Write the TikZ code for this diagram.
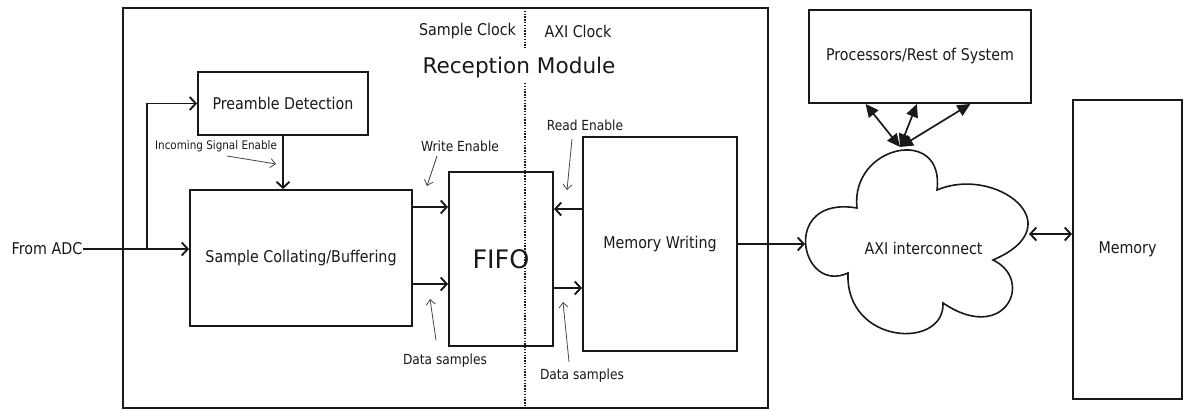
\documentclass[tikz,border=0pt]{standalone}
\usepackage{fontspec}
\setmainfont{DejaVu Sans}
\newfontfamily\narrowfont[FakeStretch=0.88]{DejaVu Sans}
\usetikzlibrary{arrows.meta,calc}
\definecolor{ink}{RGB}{25,25,25}
\definecolor{notegray}{RGB}{70,70,70}
\begin{document}
\begin{tikzpicture}[x=1pt,y=-1pt,
  every node/.style={text=ink},
  box/.style={draw=ink,line width=1.9pt,inner sep=0pt,
    font=\narrowfont\fontsize{16.2}{19}\selectfont},
  lbl/.style={inner sep=1pt,font=\narrowfont\fontsize{16.2}{19}\selectfont},
  notelbl/.style={inner sep=1pt,font=\narrowfont\fontsize{13.9}{16}\selectfont},
  arr/.style={draw=ink,line width=1.9pt,-{Straight Barb[length=6pt,width=13pt,line width=1.9pt]}},
  darr/.style={draw=ink,line width=1.9pt,{Straight Barb[length=6pt,width=13pt,line width=1.9pt]}-{Straight Barb[length=6pt,width=13pt,line width=1.9pt]}},
  tarr/.style={draw=ink,line width=1.7pt,{Triangle[length=13pt,width=12pt]}-{Triangle[length=13pt,width=12pt]}},
  note/.style={draw=notegray,line width=0.8pt,-{Straight Barb[length=5pt,width=9pt,line width=0.8pt]}},
  divider/.style={draw=ink,line width=1.5pt,dash pattern=on 1.4pt off 1.4pt}]
\useasboundingbox (0,0) rectangle (1184,411);

% reception module frame and its blocks
\node[box,minimum width=645pt,minimum height=400pt] (outer) at (445.5,208) {};
\node[inner sep=0pt,font=\fontsize{21.6}{25}\selectfont] (title) at (519,68) {Reception Module};
\node[lbl] (sclk) at (467.5,31) {Sample Clock};
\node[lbl] (aclk) at (578,31) {AXI Clock};

\node[box,minimum width=170pt,minimum height=63pt] (pre) at (283,103.5) {Preamble Detection};
\node[box,minimum width=222pt,minimum height=136pt] (samp) at (301,258) {Sample Collating/Buffering};
\node[box,minimum width=104pt,minimum height=174pt,font=\fontsize{25.5}{30}\selectfont] (fifo) at (501,259) {FIFO};
\node[box,minimum width=154pt,minimum height=214pt] (mw) at (660,244) {Memory Writing};

% clock-domain boundary
\draw[divider] (525,8) -- (525,48);
\draw[divider] (525,83) -- (525,408);

% system side
\node[box,minimum width=222pt,minimum height=93pt] (proc) at (920,56.5) {Processors/Rest of System};
\node[box,minimum width=109pt,minimum height=299pt] (memb) at (1127.5,249.5) {Memory};

\draw[ink,line width=1.6pt] (857,208)
  .. controls (850,145) and (945,125) .. (937,190)
  .. controls (995,165) and (1075,225) .. (993,260)
  .. controls (1035,280) and (1005,345) .. (943,303)
  .. controls (945,350) and (845,345) .. (848,273)
  .. controls (800,295) and (780,195) .. cycle;
\node[lbl] (axi) at (923.5,248) {AXI interconnect};
\coordinate (cloudW) at (805,244);
\coordinate (cloudE) at (1029,234);
\coordinate (cloudT) at (900,147);

% input
\node[lbl] (adc) at (47,249) {From ADC};
\coordinate (split) at (147,249);
\draw[arr] (adc.east) -- (adc.east -| samp.west);
\draw[arr] (split) |- (pre.west);
\draw[arr] (pre.south) -- (pre.south |- samp.north);

% fifo traffic
\draw[arr] ([yshift=51pt]samp.east) -- ([yshift=51pt]samp.east -| fifo.west);
\draw[arr] ([yshift=-26pt]samp.east) -- ([yshift=-26pt]samp.east -| fifo.west);
\draw[arr] ([yshift=35pt]mw.west) -- ([yshift=35pt]mw.west -| fifo.east);
\draw[arr] ([yshift=-44pt]mw.west -| fifo.east) -- ([yshift=-44pt]mw.west);

% bus connections
\draw[arr] (mw.east) -- (cloudW);
\draw[darr] (cloudE) -- (cloudE -| memb.west);
\draw[tarr] (cloudT) -- ($(proc.south west)!0.257!(proc.south east)$);
\draw[tarr] (cloudT) -- ($(proc.south west)!0.486!(proc.south east)$);
\draw[tarr] (cloudT) -- ($(proc.south west)!0.725!(proc.south east)$);

% signal annotations
\node[inner sep=1pt,font=\narrowfont\fontsize{11.8}{14}\selectfont] (ise) at (216,146) {Incoming Signal Enable};
\coordinate (iseA) at (227,156); \coordinate (iseB) at (276,164);
\draw[note] (iseA) -- (iseB);

\node[notelbl] (we) at (460,146) {Write Enable};
\coordinate (weA) at (437,156); \coordinate (weB) at (427,186);
\draw[note] (weA) -- (weB);

\node[notelbl] (re) at (585,125) {Read Enable};
\coordinate (reA) at (572,139); \coordinate (reB) at (567,190);
\draw[note] (reA) -- (reB);

\node[notelbl] (dsl) at (445,361) {Data samples};
\coordinate (dslA) at (436,340); \coordinate (dslB) at (430,299);
\draw[note] (dslA) -- (dslB);

\node[notelbl] (dsr) at (582,376) {Data samples};
\coordinate (dsrA) at (569,362); \coordinate (dsrB) at (563,302);
\draw[note] (dsrA) -- (dsrB);
\end{tikzpicture}
\end{document}
